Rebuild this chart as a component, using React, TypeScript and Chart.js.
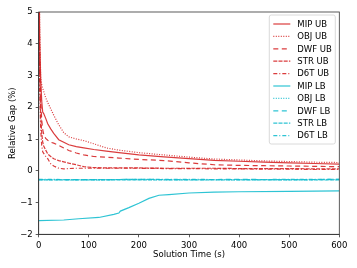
import React, { useEffect, useRef } from 'react';
import { Chart, registerables } from 'chart.js';

Chart.register(...registerables);

// ---------- data ----------
const SERIES_LABELS = ['MIP UB', 'OBJ UB', 'DWF UB', 'STR UB', 'D6T UB', 'MIP LB', 'OBJ LB', 'DWF LB', 'STR LB', 'D6T LB'];

const TIME_UB = [0, 2, 4, 6, 8, 10, 14, 18, 24, 30, 40, 50, 60, 75, 90, 110, 135, 160, 200, 250, 300, 350, 400, 450, 500, 550, 600];
const MIP_UB = [8, 4.0, 2.9, 2.2, 1.85, 1.8, 1.65, 1.48, 1.32, 1.18, 0.98, 0.9, 0.82, 0.76, 0.72, 0.67, 0.62, 0.57, 0.5, 0.44, 0.38, 0.33, 0.3, 0.27, 0.25, 0.23, 0.21];
const OBJ_UB = [8, 4.5, 2.9, 2.7, 2.6, 2.5, 2.3, 2.15, 1.95, 1.75, 1.45, 1.2, 1.07, 1.0, 0.95, 0.85, 0.72, 0.65, 0.57, 0.5, 0.43, 0.37, 0.34, 0.31, 0.29, 0.27, 0.26];
const DWF_UB = [8, 3.5, 2.3, 1.6, 1.3, 1.15, 1.02, 0.96, 0.9, 0.87, 0.8, 0.72, 0.64, 0.56, 0.5, 0.45, 0.43, 0.4, 0.36, 0.32, 0.25, 0.19, 0.17, 0.16, 0.15, 0.14, 0.13];
const STR_UB = [8, 3.0, 1.8, 1.2, 0.9, 0.78, 0.65, 0.53, 0.45, 0.38, 0.32, 0.28, 0.24, 0.19, 0.13, 0.1, 0.09, 0.09, 0.09, 0.08, 0.08, 0.08, 0.07, 0.07, 0.07, 0.06, 0.06];
const D6T_UB = [8, 2.5, 1.3, 0.8, 0.6, 0.55, 0.45, 0.38, 0.22, 0.15, 0.08, 0.06, 0.07, 0.08, 0.08, 0.08, 0.08, 0.08, 0.08, 0.07, 0.07, 0.06, 0.06, 0.05, 0.05, 0.04, 0.04];

const TIME_MIP_LB = [0, 50, 80, 120, 150, 160, 163, 180, 200, 220, 240, 260, 300, 350, 400, 500, 600];
const MIP_LB = [-1.57, -1.55, -1.51, -1.47, -1.37, -1.33, -1.27, -1.16, -1.02, -0.87, -0.77, -0.75, -0.7, -0.67, -0.66, -0.65, -0.63];

const TIME_LB = [0, 100, 200, 300, 400, 500, 600];
const OBJ_LB = [-0.28, -0.28, -0.28, -0.28, -0.28, -0.28, -0.28];
const DWF_LB = [-0.28, -0.28, -0.27, -0.28, -0.27, -0.28, -0.27];
const STR_LB = [-0.29, -0.29, -0.29, -0.29, -0.29, -0.29, -0.29];
const D6T_LB = [-0.27, -0.28, -0.27, -0.27, -0.28, -0.27, -0.27];

const X_TICKS = [0, 100, 200, 300, 400, 500, 600];
const Y_TICKS = [-2, -1, 0, 1, 2, 3, 4, 5];

// ---------- styles ----------
const RED = 'rgba(214,39,40,0.9)';
const CYAN = 'rgba(23,190,207,0.9)';
const DASHES: number[][] = [[], [1, 1.5], [5, 3.5], [4, 1.2], [4, 2, 1, 2]];
const FONT = 'DejaVu Sans';
const FS = 8.5;

const pts = (xs: number[], ys: number[]) => xs.map((x, i) => ({ x, y: ys[i] }));

const framePlugin = {
  id: 'frame',
  afterDatasetsDraw(chart: any) {
    const { ctx, chartArea: a } = chart;
    ctx.save();
    ctx.strokeStyle = '#333';
    ctx.lineWidth = 0.8;
    ctx.strokeRect(a.left, a.top, a.right - a.left, a.bottom - a.top);
    ctx.restore();
  },
};

const legendPlugin = {
  id: 'boxLegend',
  afterDraw(chart: any) {
    const { ctx, chartArea: a } = chart;
    const ds = chart.data.datasets;
    const w = 66;
    const rowH = 12.4;
    const h = rowH * ds.length + 5;
    const x0 = a.right - w - 4;
    const y0 = a.top + 3;
    ctx.save();
    ctx.beginPath();
    const r = 2;
    ctx.moveTo(x0 + r, y0);
    ctx.lineTo(x0 + w - r, y0);
    ctx.quadraticCurveTo(x0 + w, y0, x0 + w, y0 + r);
    ctx.lineTo(x0 + w, y0 + h - r);
    ctx.quadraticCurveTo(x0 + w, y0 + h, x0 + w - r, y0 + h);
    ctx.lineTo(x0 + r, y0 + h);
    ctx.quadraticCurveTo(x0, y0 + h, x0, y0 + h - r);
    ctx.lineTo(x0, y0 + r);
    ctx.quadraticCurveTo(x0, y0, x0 + r, y0);
    ctx.closePath();
    ctx.fillStyle = 'rgba(255,255,255,0.85)';
    ctx.fill();
    ctx.strokeStyle = '#d0d0d0';
    ctx.lineWidth = 0.8;
    ctx.stroke();
    ctx.font = `${FS}px "${FONT}"`;
    ctx.textBaseline = 'middle';
    ctx.textAlign = 'left';
    ds.forEach((d: any, i: number) => {
      const y = y0 + 9 + i * rowH;
      ctx.beginPath();
      ctx.setLineDash(d.borderDash || []);
      ctx.strokeStyle = d.borderColor;
      ctx.lineWidth = d.borderWidth;
      ctx.moveTo(x0 + 4, y);
      ctx.lineTo(x0 + 21, y);
      ctx.stroke();
      ctx.setLineDash([]);
      ctx.fillStyle = '#000';
      ctx.fillText(d.label, x0 + 28, y + 0.5);
    });
    ctx.restore();
  },
};

export default function App() {
  const ref = useRef<HTMLCanvasElement>(null);
  useEffect(() => {
    if (!ref.current) return;
    const ubData = [MIP_UB, OBJ_UB, DWF_UB, STR_UB, D6T_UB];
    const lbData = [pts(TIME_MIP_LB, MIP_LB), pts(TIME_LB, OBJ_LB), pts(TIME_LB, DWF_LB), pts(TIME_LB, STR_LB), pts(TIME_LB, D6T_LB)];
    const datasets: any[] = [];
    ubData.forEach((ys, i) => {
      datasets.push({
        label: SERIES_LABELS[i],
        data: pts(TIME_UB, ys),
        borderColor: RED,
        borderDash: DASHES[i],
        borderWidth: 1.2,
        pointRadius: 0,
        tension: 0,
        fill: false,
      });
    });
    lbData.forEach((d, i) => {
      datasets.push({
        label: SERIES_LABELS[5 + i],
        data: d,
        borderColor: CYAN,
        borderDash: DASHES[i],
        borderWidth: 1.2,
        pointRadius: 0,
        tension: 0,
        fill: false,
      });
    });
    const axisCommon = {
      grid: { display: true, drawOnChartArea: false, drawTicks: true, tickLength: 3, color: '#333', lineWidth: 0.8 },
      border: { display: true, color: '#333', width: 0.8 },
    };
    const chart = new Chart(ref.current, {
      type: 'line',
      data: { datasets },
      options: {
        animation: false,
        responsive: false,
        devicePixelRatio: 1,
        layout: { padding: { left: 4, right: 17.7, top: 12, bottom: 4.2 } },
        plugins: { legend: { display: false }, tooltip: { enabled: false } },
        scales: {
          x: {
            type: 'linear',
            min: 0,
            max: 600,
            ...axisCommon,
            afterFit: (s: any) => { s.height = 29.5; },
            afterBuildTicks: (s: any) => { s.ticks = X_TICKS.map((v) => ({ value: v })); },
            ticks: { color: '#000', font: { family: FONT, size: FS }, padding: 3, maxRotation: 0 },
            title: { display: true, text: 'Solution Time (s)', color: '#000', font: { family: FONT, size: FS }, padding: 4 },
          },
          y: {
            type: 'linear',
            min: -2,
            max: 5,
            ...axisCommon,
            afterFit: (s: any) => { s.width = 34.7; },
            afterBuildTicks: (s: any) => { s.ticks = Y_TICKS.map((v) => ({ value: v })); },
            ticks: {
              color: '#000',
              font: { family: FONT, size: FS },
              padding: 3,
              callback: (v: any) => (Number(v) < 0 ? '\u2212' + Math.abs(Number(v)) : String(v)),
            },
            title: { display: true, text: 'Relative Gap (%)', color: '#000', font: { family: FONT, size: FS }, padding: 4 },
          },
        },
      } as any,
      plugins: [framePlugin, legendPlugin],
    });
    return () => chart.destroy();
  }, []);
  return (
    <canvas ref={ref} width={357} height={268} style={{ position: 'absolute', left: 0, top: 0, width: 357, height: 268 }} />
  );
}
